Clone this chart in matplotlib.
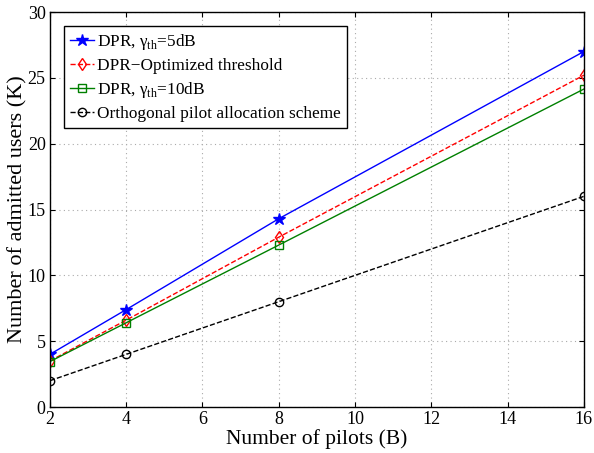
import matplotlib
matplotlib.use('Agg')
import matplotlib.pyplot as plt

# data
pilots = [2, 4, 8, 16]
dpr_5db = [4.0, 7.4, 14.3, 27.0]
dpr_opt = [3.5, 6.6, 12.9, 25.2]
dpr_10db = [3.45, 6.4, 12.3, 24.15]
orthogonal = [2, 4, 8, 16]

plt.rcParams['font.family'] = ['Liberation Serif', 'DejaVu Serif']
plt.rcParams['mathtext.fontset'] = 'custom'
plt.rcParams['mathtext.rm'] = 'Liberation Serif'

fig = plt.figure(figsize=(5.94, 4.53), dpi=100)
ax = fig.add_axes([0.084, 0.1015, 0.899, 0.872])

ax.plot(pilots, dpr_5db, color='blue', linestyle='-', marker='*', markersize=9,
        linewidth=1, label='DPR, \u03b3$_{\\rm th}$=5dB')
ax.plot(pilots, dpr_opt, color='red', linestyle='--', marker='d', markersize=6,
        markerfacecolor='none', linewidth=1, label='DPR\u2212Optimized threshold')
ax.plot(pilots, dpr_10db, color='green', linestyle='-', marker='s', markersize=6,
        markerfacecolor='none', linewidth=1, label='DPR, \u03b3$_{\\rm th}$=10dB')
ax.plot(pilots, orthogonal, color='black', linestyle='--', marker='o', markersize=6,
        markerfacecolor='none', linewidth=1, label='Orthogonal pilot allocation scheme')

ax.set_xlim(2, 16)
ax.set_ylim(0, 30)
ax.set_xticks(range(2, 17, 2))
ax.set_yticks(range(0, 31, 5))
ax.grid(True, linestyle=(0, (1, 3)), color='#aaaaaa', linewidth=0.8)
ax.tick_params(direction='in', labelsize=13, top=True, right=True, pad=3)
for sp in ax.spines.values():
    sp.set_linewidth(1)

ax.set_xlabel('Number of pilots (B)', fontsize=15.5, labelpad=1)
ax.set_ylabel('Number of admitted users (K)', fontsize=16, labelpad=0)

leg = ax.legend(loc='upper left', fontsize=12.4, fancybox=False, framealpha=1,
                edgecolor='black', handlelength=1.4, handletextpad=0.2,
                borderpad=0.35, labelspacing=0.35, borderaxespad=0.8)
leg.get_frame().set_linewidth(1)

fig.savefig('out.png', dpi=100)
